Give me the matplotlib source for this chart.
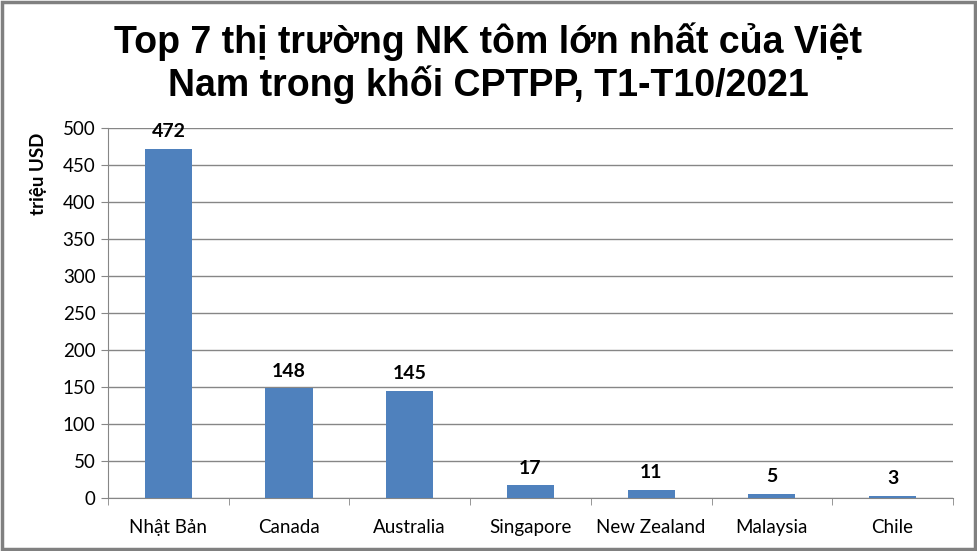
import matplotlib
matplotlib.use("Agg")
import matplotlib.pyplot as plt
from matplotlib.patches import Rectangle
import numpy as np

categories = ["Nhật Bản", "Canada", "Australia", "Singapore", "New Zealand", "Malaysia", "Chile"]
values = [472, 148, 145, 17, 11, 5, 3]
yticks = [0, 50, 100, 150, 200, 250, 300, 350, 400, 450, 500]
title = "Top 7 thị trường NK tôm lớn nhất của Việt\nNam trong khối CPTPP, T1-T10/2021"
ylabel = "triệu USD"

fig = plt.figure(figsize=(9.77, 5.51), dpi=100)
ax = fig.add_axes([0.1105, 0.0962, 0.8649, 0.6715])

fam = ["Lato", "DejaVu Sans"]
x = np.arange(len(categories))
ax.bar(x, values, width=0.39, color="#4F81BD", zorder=3)
for xi, v in zip(x, values):
    ax.text(xi, v + 12, str(v), ha="center", va="bottom", fontsize=14,
            fontweight="bold", family=fam)

ax.set_xlim(-0.5, len(categories) - 0.5)
ax.set_ylim(0, 500)
ax.set_yticks(yticks)
ax.set_yticklabels([str(t) for t in yticks], fontsize=13.5, family=fam)
ax.set_xticks(x)
ax.set_xticklabels(categories, fontsize=13.5, family=fam)
ax.set_xticks(np.arange(-0.5, len(categories)), minor=True)
ax.tick_params(axis="x", which="major", length=0, pad=15)
ax.tick_params(axis="x", which="minor", length=5, color="#868686")
ax.tick_params(axis="y", length=5, color="#868686", pad=4)
ax.grid(axis="y", color="#868686", linewidth=1, zorder=0)
for s in ["top", "right"]:
    ax.spines[s].set_visible(False)
for s in ["left", "bottom"]:
    ax.spines[s].set_color("#868686")
ax.set_ylabel(ylabel, fontsize=13.5, fontweight="bold", family=fam)
ax.yaxis.set_label_coords(-0.072, 0.875)

fig.text(0.5, 0.885, title, ha="center", va="center", fontsize=27, fontweight="bold",
         family=["Liberation Sans", "DejaVu Sans"], linespacing=1.15)

fig.patches.append(Rectangle((0.002, 0.003), 0.996, 0.994, transform=fig.transFigure,
                             fill=False, edgecolor="#808080", linewidth=2.5))

fig.savefig("out.png", dpi=100)
